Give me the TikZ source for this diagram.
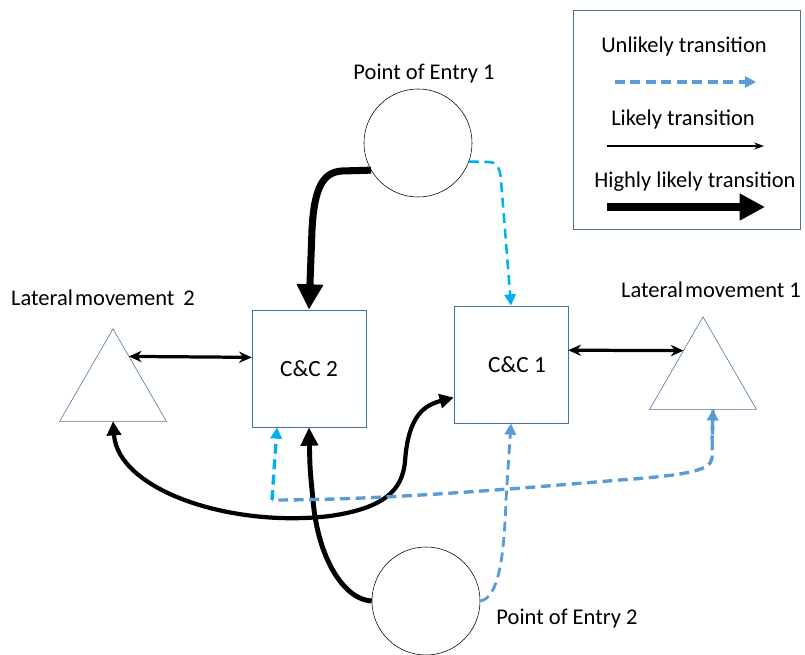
\documentclass[tikz,border=0pt]{standalone}
\usepackage{fontspec}
\setmainfont{Carlito}
\usetikzlibrary{arrows.meta}
\usetikzlibrary{shapes.geometric}
\definecolor{boxblue}{RGB}{65,113,156}
\definecolor{dashblue}{RGB}{91,155,213}
\definecolor{dashcyan}{RGB}{0,176,240}
\begin{document}
\begin{tikzpicture}[x=0.025cm,y=-0.025cm,
		lbl/.style={font=\fontsize{16}{19}\selectfont,inner sep=0pt},
		entry/.style={circle,draw,minimum size=2.7cm,inner sep=0pt},
		cc/.style={rectangle,draw=boxblue,minimum width=2.85cm,minimum height=2.93cm,font=\fontsize{16.5}{19}\selectfont},
		tri/.style={regular polygon,regular polygon sides=3,draw=boxblue,minimum size=3.08cm,inner sep=0pt,outer sep=0pt},
		unlikely/.style={dashblue,line width=2.4pt,dash pattern=on 7pt off 4pt,-{Triangle[length=8pt,width=8pt]}},
		likely/.style={line width=2.3pt,{Stealth[length=9pt,width=8pt]}-{Stealth[length=9pt,width=8pt]}},
		highly/.style={line width=5pt,-{Triangle[length=18pt,width=18pt]}}]
		\useasboundingbox (0,0) rectangle (805,655);
		\node[entry] (poe1) at (418,143) {};
		\node[entry] (poe2) at (426,601) {};
		\node[cc] (cc2) at (309,368.5) {C\&C 2};
		\node[cc] (cc1) at (511,364.5) {\hspace*{0.3cm}C\&C 1};
		\node[tri] (lm2) at (113,390.5) {};
		\node[tri] (lm1) at (703,378.5) {};
		\node[lbl] (poe1lbl) at (424,74) {Point of Entry 1};
		\node[lbl] (poe2lbl) at (567,619) {Point of Entry 2};
		\node[lbl] (lm2lbl) at (103,298) {Lateral\hspace{0.1em}movement\hspace{0.4em}2};
		\node[lbl] (lm1lbl) at (711,290) {Lateral\hspace{0.1em}movement 1};
		\draw[boxblue] (573,10) rectangle (800,229);
		\node[lbl] (unl) at (684,47) {Unlikely transition};
		\node[lbl] (lik) at (683,120) {Likely transition};
		\node[lbl] (hig) at (695,182) {Highly likely transition};
		\coordinate (u1) at (615,82);
		\coordinate (u2) at (756,82);
		\coordinate (l1) at (607,146);
		\coordinate (l2) at (764,146);
		\coordinate (h1) at (607,207);
		\coordinate (h2) at (765,207);
		\draw[unlikely,line width=2.6pt] (u1) -- (u2);
		\draw[line width=1pt,-{Stealth[length=7pt,width=5pt]}] (l1) -- (l2);
		\draw[highly,line width=5.5pt] (h1) -- (h2);
		\draw[highly] (poe1.210) -- (342,171) .. controls (322,172) and (314,190) .. (312,230) -- (cc2.north);
		\draw[unlikely,dashcyan,line width=1.8pt] (poe1.-20) -- (488,162) .. controls (497,162) and (500,168) .. (501,180) -- (cc1.north);
		\draw[likely] (lm2.65) -- (cc2.169);
		\draw[likely] (cc1.14) -- (lm1.125);
		\draw[line width=3pt,{Triangle[length=10pt,width=10pt]}-{Triangle[length=10pt,width=10pt]}] (lm2.south) .. controls (118,490) and (230,528) .. (330,516) .. controls (385,508) and (402,490) .. (405,462) .. controls (408,415) and (425,405) .. (cc1.210);
		\draw[line width=3.5pt,-{Triangle[length=13pt,width=12pt]}] (poe2.west) .. controls (345,600) and (318,560) .. (313,500) .. controls (310,470) .. (cc2.south);
		\draw[unlikely,line width=2pt] (poe2.east) .. controls (498,598) and (504,560) .. (506,500) -- (cc1.south);
		\coordinate (corner) at (272,500);
		\draw[unlikely,-] ([xshift=0.25cm]lm1.south) -- (712,458) .. controls (711,470) and (690,475) .. (620,480) .. controls (500,490) and (380,500) .. (corner);
		\draw[unlikely,{Triangle[length=8pt,width=8pt]}-] ([xshift=0.25cm]lm1.south) -- (712,440);
		\draw[unlikely,dashcyan] (corner) -- ([xshift=-0.8cm]cc2.south);
	\end{tikzpicture}
\end{document}
